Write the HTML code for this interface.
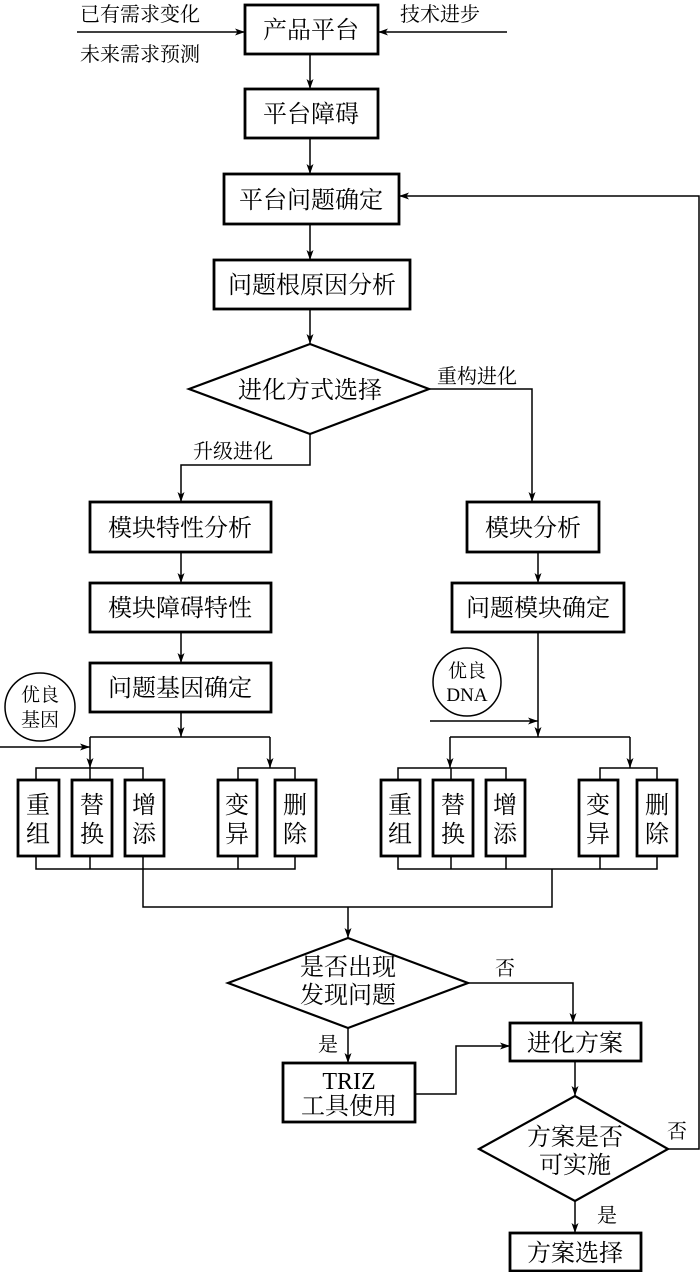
<!DOCTYPE html>
<html><head><meta charset="utf-8"><style>
body{margin:0;background:#fff}
svg{display:block}
text{font-family:"Liberation Serif","Noto Serif CJK SC",serif;fill:#000}
</style></head><body>
<svg width="700" height="1272" viewBox="0 0 700 1272" xmlns="http://www.w3.org/2000/svg">
<defs><marker id="a" viewBox="0 0 10 10" refX="10" refY="5" markerWidth="10" markerHeight="10" markerUnits="userSpaceOnUse" orient="auto"><path d="M0,1.5 L10,5 L0,8.5 L2.5,5z" fill="#000"/></marker></defs>
<g fill="none" stroke="#000" stroke-width="2.8">
<rect x="245" y="5" width="133" height="49"/>
<rect x="245" y="89" width="133" height="49"/>
<rect x="224" y="174" width="175" height="50"/>
<rect x="214" y="260" width="196" height="49"/>
<polygon points="189,389 310,344 429,389 310,434" stroke-width="2.2"/>
<rect x="90" y="502" width="181" height="50"/>
<rect x="90" y="583" width="181" height="49"/>
<rect x="90" y="663" width="181" height="49"/>
<rect x="467" y="502" width="132" height="50"/>
<rect x="452" y="583" width="172" height="49"/>
<rect x="18" y="780" width="41" height="76"/><rect x="72" y="780" width="40" height="76"/><rect x="125" y="780" width="39" height="76"/>
<rect x="218" y="780" width="39" height="76"/><rect x="275" y="780" width="41" height="76"/>
<rect x="381" y="780" width="39" height="76"/><rect x="433" y="780" width="40" height="76"/><rect x="486" y="780" width="39" height="76"/>
<rect x="579" y="780" width="39" height="76"/><rect x="637" y="780" width="40" height="76"/>
<polygon points="228,983 348,938 468,983 348,1028" stroke-width="2.2"/>
<rect x="510" y="1023" width="131" height="38"/>
<rect x="283" y="1063" width="132" height="59"/>
<polygon points="479,1149 575,1096 668,1149 575,1201" stroke-width="2.2"/>
<rect x="510" y="1233" width="131" height="38"/>
</g>
<g fill="none" stroke="#000" stroke-width="1.5">
<ellipse cx="40" cy="707" rx="35" ry="34"/>
<ellipse cx="467" cy="682" rx="34" ry="34"/>
</g>
<g fill="none" stroke="#000" stroke-width="1.5" marker-end="url(#a)">
<line x1="77" y1="32" x2="245" y2="32"/>
<line x1="507" y1="32" x2="378" y2="32"/>
<line x1="310" y1="54" x2="310" y2="89"/>
<line x1="310" y1="138" x2="310" y2="174"/>
<line x1="310" y1="224" x2="310" y2="260"/>
<line x1="310" y1="309" x2="310" y2="344"/>
<polyline points="310,434 310,465 181,465 181,502"/>
<polyline points="429,389 532,389 532,502"/>
<line x1="181" y1="552" x2="181" y2="583"/>
<line x1="181" y1="632" x2="181" y2="663"/>
<line x1="538" y1="552" x2="538" y2="583"/>
<line x1="181" y1="712" x2="181" y2="737"/>
<line x1="0" y1="747" x2="90" y2="747"/>
<line x1="90" y1="737" x2="90" y2="768"/>
<line x1="270" y1="737" x2="270" y2="768"/>
<line x1="538" y1="632" x2="538" y2="737"/>
<line x1="430" y1="721" x2="538" y2="721"/>
<line x1="450" y1="737" x2="450" y2="768"/>
<line x1="630" y1="737" x2="630" y2="768"/>
<line x1="348" y1="907" x2="348" y2="938"/>
<polyline points="468,983 573,983 573,1023"/>
<line x1="348" y1="1028" x2="348" y2="1063"/>
<polyline points="415,1094 456,1094 456,1046 510,1046"/>
<line x1="575" y1="1061" x2="575" y2="1096"/>
<line x1="575" y1="1201" x2="575" y2="1233"/>
<polyline points="668,1149 699,1149 699,196 399,196"/>
</g>
<g fill="none" stroke="#000" stroke-width="1.5">
<line x1="90" y1="737" x2="270" y2="737"/>
<line x1="450" y1="737" x2="630" y2="737"/>
<polyline points="36,780 36,768 143,768 143,780"/><line x1="90" y1="768" x2="90" y2="780"/>
<polyline points="238,780 238,768 295,768 295,780"/>
<polyline points="398,780 398,768 506,768 506,780"/><line x1="451" y1="768" x2="451" y2="780"/>
<polyline points="600,780 600,768 657,768 657,780"/>
<polyline points="36,856 36,869 295,869 295,856"/>
<line x1="90" y1="856" x2="90" y2="869"/><line x1="143" y1="856" x2="143" y2="869"/><line x1="238" y1="856" x2="238" y2="869"/>
<polyline points="398,856 398,869 657,869 657,856"/>
<line x1="451" y1="856" x2="451" y2="869"/><line x1="506" y1="856" x2="506" y2="869"/><line x1="600" y1="856" x2="600" y2="869"/>
<polyline points="143,869 143,907 552,907 552,869"/>
</g>
<g font-size="24" text-anchor="middle">
<text x="311" y="38">产品平台</text>
<text x="311" y="122">平台障碍</text>
<text x="311" y="208">平台问题确定</text>
<text x="312" y="293">问题根原因分析</text>
<text x="310" y="398">进化方式选择</text>
<text x="180" y="536">模块特性分析</text>
<text x="180" y="616">模块障碍特性</text>
<text x="180" y="696">问题基因确定</text>
<text x="533" y="536">模块分析</text>
<text x="538" y="616">问题模块确定</text>
<text x="348" y="975">是否出现</text>
<text x="348" y="1003">发现问题</text>
<text x="575" y="1051">进化方案</text>
<text x="349" y="1089">TRIZ</text>
<text x="349" y="1114">工具使用</text>
<text x="575" y="1145">方案是否</text>
<text x="575" y="1173">可实施</text>
<text x="575" y="1261">方案选择</text>
</g>
<g font-size="24" text-anchor="middle">
<text x="38" y="813">重</text><text x="38" y="842">组</text>
<text x="92" y="813">替</text><text x="92" y="842">换</text>
<text x="144" y="813">增</text><text x="144" y="842">添</text>
<text x="237" y="813">变</text><text x="237" y="842">异</text>
<text x="295" y="813">删</text><text x="295" y="842">除</text>
<text x="400" y="813">重</text><text x="400" y="842">组</text>
<text x="453" y="813">替</text><text x="453" y="842">换</text>
<text x="505" y="813">增</text><text x="505" y="842">添</text>
<text x="598" y="813">变</text><text x="598" y="842">异</text>
<text x="657" y="813">删</text><text x="657" y="842">除</text>
</g>
<g font-size="20">
<text x="80" y="21">已有需求变化</text>
<text x="80" y="61">未来需求预测</text>
<text x="400" y="21">技术进步</text>
<text x="437" y="383">重构进化</text>
<text x="193" y="458">升级进化</text>
<text x="495" y="975">否</text>
<text x="318" y="1051">是</text>
<text x="667" y="1138">否</text>
<text x="597" y="1222">是</text>
</g>
<g font-size="19" text-anchor="middle">
<text x="40" y="701">优良</text><text x="40" y="726">基因</text>
<text x="467" y="677">优良</text><text x="467" y="701">DNA</text>
</g>
</svg>
</body></html>
